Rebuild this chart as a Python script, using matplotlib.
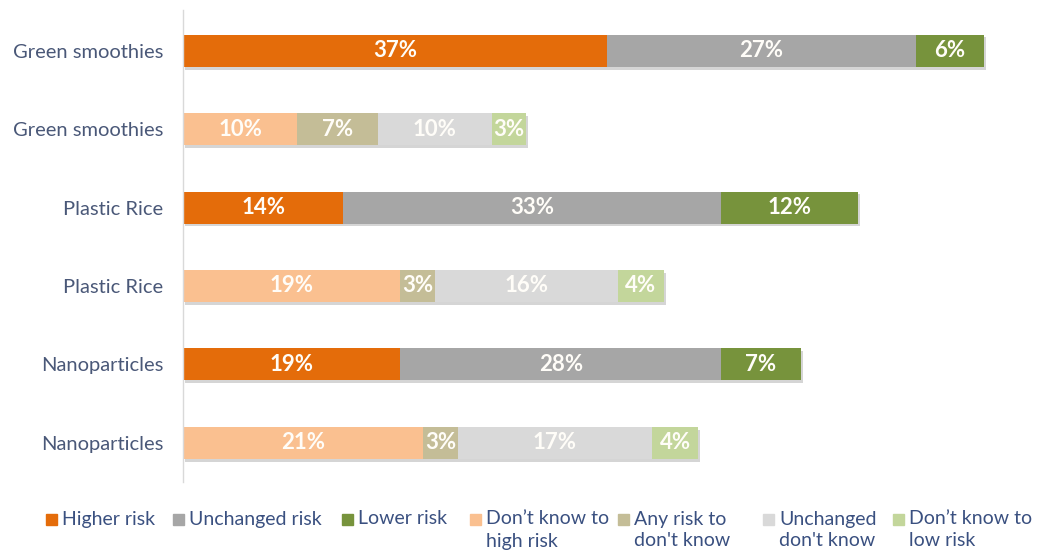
import matplotlib
matplotlib.use("Agg")
import matplotlib.pyplot as plt
from matplotlib.patches import Rectangle
import matplotlib.patheffects as pe

plt.rcParams['font.family'] = ['Lato', 'DejaVu Sans']

# Row labels, top to bottom
rows = ["Green smoothies", "Green smoothies", "Plastic Rice", "Plastic Rice",
        "Nanoparticles", "Nanoparticles"]

# Percentages per series (0 = series not shown on that row)
higher_risk = [37, 0, 14, 0, 19, 0]
unchanged_risk = [27, 0, 33, 0, 28, 0]
lower_risk = [6, 0, 12, 0, 7, 0]
dk_to_high = [0, 10, 0, 19, 0, 21]
any_to_dk = [0, 7, 0, 3, 0, 3]
unchanged_dk = [0, 10, 0, 16, 0, 17]
dk_to_low = [0, 3, 0, 4, 0, 4]

series_names = ["Higher risk", "Unchanged risk", "Lower risk",
                "Don\u2019t know to\nhigh risk", "Any risk to\ndon't know",
                "Unchanged\ndon't know", "Don\u2019t know to\nlow risk"]
series_values = [higher_risk, unchanged_risk, lower_risk, dk_to_high,
                 any_to_dk, unchanged_dk, dk_to_low]
colors = ["#E46C0A", "#A6A6A6", "#77933C", "#FAC090", "#C4BD97",
          "#D9D9D9", "#C3D69B"]

label_color = "#4A5878"
legend_color = "#3A5080"

fig = plt.figure(figsize=(10.37, 5.53), dpi=100)
W, H = 1037, 553
ax = fig.add_axes([183 / W, 1 - 482 / H, 847 / W, 472 / H])

ypos = list(range(len(rows)))
left = [0] * len(rows)
shadow = [pe.SimplePatchShadow(offset=(1.5, -2), shadow_rgbFace="#888888", alpha=0.35),
          pe.Normal()]
for vals, col in zip(series_values, colors):
    bars = ax.barh(ypos, vals, left=left, height=0.41, color=col,
                   edgecolor="none", zorder=2)
    for b, v, l, y in zip(bars, vals, left, ypos):
        if v > 0:
            b.set_path_effects(shadow)
            ax.text(l + v / 2, y, f"{v}%", ha="center", va="center",
                    color="#FFFDF8", fontsize=16, fontweight="bold", zorder=3)
    left = [a + b for a, b in zip(left, vals)]

ax.set_xlim(0, 74)
ax.set_ylim(5.5, -0.52)
ax.set_yticks(ypos)
ax.set_yticklabels(rows, fontsize=14.5, color=label_color)
ax.tick_params(axis="y", length=0, pad=14)
ax.set_xticks([])
for s in ["top", "right", "bottom"]:
    ax.spines[s].set_visible(False)
ax.spines["left"].set_color("#D9D9D9")
ax.spines["left"].set_linewidth(1)

# Legend row along the bottom
marker_x = [46, 173, 342, 470, 618, 763, 893]
line_y = [519, 541]
for mx, name, col in zip(marker_x, series_names, colors):
    fig.patches.append(Rectangle((mx / W, 1 - 525 / H), 11 / W, 11 / H,
                                 transform=fig.transFigure, color=col))
    for ly, line in zip(line_y, name.split("\n")):
        fig.text((mx + 16) / W, 1 - ly / H, line, fontsize=14,
                 color=legend_color, ha="left", va="center")

fig.savefig("out.png", dpi=100)
